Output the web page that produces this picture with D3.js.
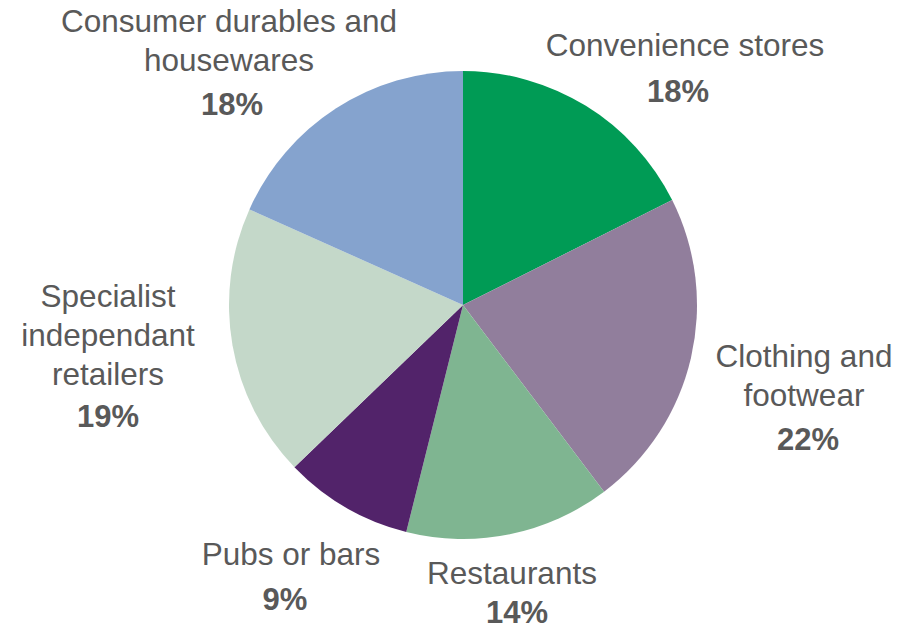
<!DOCTYPE html>
<html>
<head>
<meta charset="utf-8">
<script src="https://cdn.jsdelivr.net/npm/d3@7"></script>
<style>
  html, body { margin: 0; padding: 0; background: #ffffff; }
  svg { display: block; }
  .lbl { font-family: "Liberation Sans", Arial, sans-serif; fill: #595959; }
</style>
</head>
<body>
<div id="chart"></div>
<script>
// Share of outlets by category, read clockwise from 12 o'clock
const categories = [
  "Convenience stores",
  "Clothing and footwear",
  "Restaurants",
  "Pubs or bars",
  "Specialist independant retailers",
  "Consumer durables and housewares"
];
const shares = [17.6, 22.1, 14.2, 8.9, 18.9, 18.3];
const colors = ["#009b55", "#917e9c", "#7fb591", "#52236a", "#c4d8c9", "#85a3ce"];

// Label text broken into lines as in the original
const labelLines = [
  ["Convenience stores"],
  ["Clothing and", "footwear"],
  ["Restaurants"],
  ["Pubs or bars"],
  ["Specialist", "independant", "retailers"],
  ["Consumer durables and", "housewares"]
];

(function () {
  const W = 911, H = 632;
  const cx = 463, cy = 305, R = 234;

  // label anchors (center x, first baseline y, gap before the percentage)
  const labelPos = [
    { x: 685, y: 56, pctX: 678, pctGap: 46 },
    { x: 804, y: 367, pctX: 808, pctGap: 44 },
    { x: 512, y: 584, pctX: 517, pctGap: 39 },
    { x: 291, y: 565, pctX: 285, pctGap: 45 },
    { x: 108, y: 307, pctX: 108, pctGap: 42 },
    { x: 229, y: 32, pctX: 232, pctGap: 44 }
  ];
  const lineH = 39;

  const svg = d3.select("#chart").append("svg")
    .attr("width", W)
    .attr("height", H);

  const data = categories.map((c, i) => ({ name: c, value: shares[i], i }));

  const pie = d3.pie().sort(null).value(d => d.value);
  const arc = d3.arc().innerRadius(0).outerRadius(R);

  const g = svg.append("g").attr("transform", `translate(${cx},${cy})`);

  g.selectAll("path.slice")
    .data(pie(data))
    .join("path")
    .attr("class", "slice")
    .attr("d", arc)
    .attr("fill", d => colors[d.data.i]);

  const fmt = v => `${Math.round(v)}%`;

  const labels = svg.selectAll("g.label")
    .data(data)
    .join("g")
    .attr("class", "label");

  labels.each(function (d) {
    const p = labelPos[d.i];
    const sel = d3.select(this);
    const lines = labelLines[d.i];
    lines.forEach((t, k) => {
      sel.append("text")
        .attr("class", "lbl")
        .attr("x", p.x)
        .attr("y", p.y + k * lineH)
        .attr("text-anchor", "middle")
        .style("font-size", "31.5px")
        .text(t);
    });
    sel.append("text")
      .attr("class", "lbl")
      .attr("x", p.pctX)
      .attr("y", p.y + (lines.length - 1) * lineH + p.pctGap)
      .attr("text-anchor", "middle")
      .style("font-size", "31px")
      .style("font-weight", "bold")
      .text(fmt(d.value));
  });
})();
</script>
</body>
</html>
